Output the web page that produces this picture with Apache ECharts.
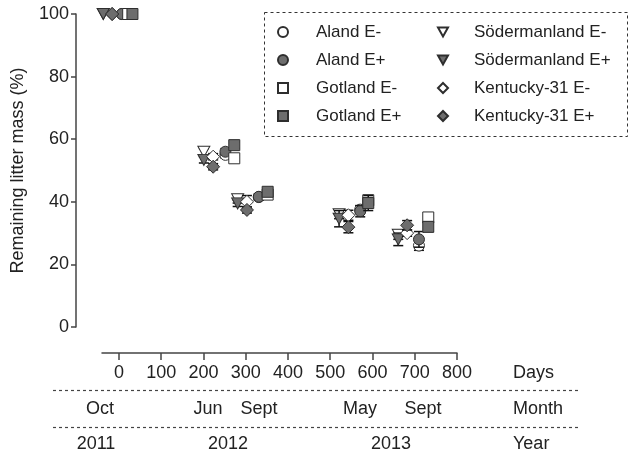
<!DOCTYPE html>
<html><head><meta charset="utf-8">
<script src="https://cdn.jsdelivr.net/npm/echarts@6/dist/echarts.min.js"></script>
<style>html,body{margin:0;padding:0;background:#fff}#c{width:631px;height:458px}</style>
</head><body><div id="c"></div>
<script>
// ---- data ----
const seriesNames = ['Aland E-','Aland E+','Gotland E-','Gotland E+','Södermanland E-','Södermanland E+','Kentucky-31 E-','Kentucky-31 E+'];
const daysAland = [7, 252, 331, 571, 710];
const daysGotlandMinus = [22, 273, 352, 590, 732];
const daysGotlandPlus = [32, 273, 352, 590, 732];
const daysSoder = [-37, 201, 281, 521, 661];
const daysKentucky = [-16, 223, 303, 543, 682];

const alandMinus = [100, 55.0, 41.5, 37.5, 26.0];
const alandPlus = [100, 56.0, 41.6, 37.0, 28.0];
const gotlandMinus = [100, 53.9, 42.3, 40.5, 35.0];
const gotlandPlus = [100, 58.1, 43.2, 39.6, 32.0];
const soderMinus = [100, 56.0, 40.8, 36.0, 29.5];
const soderPlus = [100, 53.4, 39.5, 34.6, 28.0];
const kentuckyMinus = [100, 54.4, 40.0, 35.7, 30.0];
const kentuckyPlus = [100, 51.2, 37.4, 31.9, 32.5];

const errAlandMinus = [0, 1.0, 1.0, 1.2, 1.5];
const errAlandPlus = [0, 1.0, 1.0, 1.8, 2.5];
const errGotlandMinus = [0, 1.0, 1.0, 1.5, 1.2];
const errGotlandPlus = [0, 1.0, 1.0, 2.4, 1.5];
const errSoderMinus = [0, 1.0, 1.2, 1.4, 1.5];
const errSoderPlus = [0, 1.0, 1.0, 2.6, 2.0];
const errKentuckyMinus = [0, 1.0, 2.0, 1.6, 1.0];
const errKentuckyPlus = [0, 1.0, 1.0, 1.8, 1.5];

const dayTicks = [0, 100, 200, 300, 400, 500, 600, 700, 800];
const monthLabels = ['Oct', 'Jun', 'Sept', 'May', 'Sept'];
const yearLabels = ['2011', '2012', '2013'];
const rowTitles = ['Days', 'Month', 'Year'];

// ---- build ----
const FONT = '"Liberation Sans", Arial, sans-serif';
const GRAY = '#6d6d6d', DARK = '#2e2e2e', TXT = '#222';
const DOWN_TRI = 'path://M0,0L20,0L10,18Z';
const specs = [
  {days: daysAland, vals: alandMinus, err: errAlandMinus, symbol: 'circle', size: 11, fill: '#fff'},
  {days: daysAland, vals: alandPlus, err: errAlandPlus, symbol: 'circle', size: 11, fill: GRAY},
  {days: daysGotlandMinus, vals: gotlandMinus, err: errGotlandMinus, symbol: 'rect', size: 11, fill: '#fff'},
  {days: daysGotlandPlus, vals: gotlandPlus, err: errGotlandPlus, symbol: 'rect', size: 11, fill: GRAY},
  {days: daysSoder, vals: soderMinus, err: errSoderMinus, symbol: DOWN_TRI, size: [12, 11], fill: '#fff'},
  {days: daysSoder, vals: soderPlus, err: errSoderPlus, symbol: DOWN_TRI, size: [12, 11], fill: GRAY},
  {days: daysKentucky, vals: kentuckyMinus, err: errKentuckyMinus, symbol: 'diamond', size: 13, fill: '#fff'},
  {days: daysKentucky, vals: kentuckyPlus, err: errKentuckyPlus, symbol: 'diamond', size: 13, fill: GRAY}
];

const series = [];
specs.forEach((s, i) => {
  series.push({
    type: 'custom', silent: true, z: 2 + i * 2,
    renderItem: function (params, api) {
      const x = api.value(0), lo = api.value(1), hi = api.value(2);
      if (hi - lo <= 0) return null;
      const a = api.coord([x, hi]), b = api.coord([x, lo]);
      const st = {stroke: '#111', lineWidth: 1.5};
      return {type: 'group', children: [
        {type: 'line', shape: {x1: a[0], y1: a[1], x2: b[0], y2: b[1]}, style: st},
        {type: 'line', shape: {x1: a[0] - 5, y1: a[1], x2: a[0] + 5, y2: a[1]}, style: st},
        {type: 'line', shape: {x1: b[0] - 5, y1: b[1], x2: b[0] + 5, y2: b[1]}, style: st}
      ]};
    },
    data: s.days.map((d, k) => [d, s.vals[k] - s.err[k], s.vals[k] + s.err[k]])
  });
  series.push({
    name: seriesNames[i], type: 'scatter', z: 3 + i * 2,
    symbol: s.symbol, symbolSize: s.size,
    itemStyle: {color: s.fill, borderColor: DARK, borderWidth: 1, opacity: 1},
    emphasis: {disabled: true},
    data: s.days.map((d, k) => [d, s.vals[k]])
  });
});

const legendCommon = {orient: 'vertical', top: 22, padding: 0, itemWidth: 10, itemHeight: 10, itemGap: 8,
  selectedMode: false,
  textStyle: {fontSize: 17, lineHeight: 20, color: TXT, fontFamily: FONT}};

const chart = echarts.init(document.getElementById('c'), null, {renderer: 'canvas'});
const graphic = [
  {type: 'rect', shape: {x: 264.5, y: 12.5, width: 363, height: 124}, style: {fill: 'none', stroke: '#333', lineWidth: 1, lineDash: [3, 3]}, z: 1},
  {type: 'line', shape: {x1: 53, y1: 390.5, x2: 580, y2: 390.5}, style: {stroke: '#444', lineWidth: 1.2, lineDash: [3, 3]}},
  {type: 'line', shape: {x1: 53, y1: 427.5, x2: 580, y2: 427.5}, style: {stroke: '#444', lineWidth: 1.2, lineDash: [3, 3]}}
];
const textStyle = (t, x, y, align) => ({type: 'text', x: x, y: y, style: {text: t, font: '18px ' + FONT, fill: TXT, textAlign: align || 'center', textVerticalAlign: 'middle'}});
const monthX = [100, 208, 259, 360, 423];
monthLabels.forEach((m, i) => graphic.push(textStyle(m, monthX[i], 409)));
const yearX = [96, 228, 391];
yearLabels.forEach((y, i) => graphic.push(textStyle(y, yearX[i], 444)));
const rowY = [373, 409, 444];
rowTitles.forEach((r, i) => graphic.push(textStyle(r, 513, rowY[i], 'left')));

chart.setOption({
  animation: false,
  backgroundColor: '#fff',
  textStyle: {fontFamily: FONT},
  grid: {left: 102, right: 174, top: 14, bottom: 131, containLabel: false},
  xAxis: {
    type: 'value', min: -40, max: 800, position: 'bottom', offset: 26,
    splitLine: {show: false},
    axisLine: {show: true, onZero: false, lineStyle: {color: '#444', width: 1.5}},
    axisTick: {show: true, length: 7, lineStyle: {color: '#444', width: 1.5}, customValues: dayTicks},
    axisLabel: {fontSize: 18, color: TXT, margin: 11, customValues: dayTicks, fontFamily: FONT}
  },
  yAxis: {
    type: 'value', min: 0, max: 100, interval: 20, position: 'left', offset: 26,
    name: 'Remaining litter mass (%)', nameLocation: 'middle', nameGap: 49,
    nameTextStyle: {fontSize: 18, color: TXT, fontFamily: FONT},
    splitLine: {show: false},
    axisLine: {show: true, onZero: false, lineStyle: {color: '#444', width: 1.5}},
    axisTick: {show: true, length: 5, lineStyle: {color: '#444', width: 1.5}},
    axisLabel: {fontSize: 18, color: TXT, margin: 7, fontFamily: FONT}
  },
  legend: [
    Object.assign({}, legendCommon, {left: 277, textStyle: Object.assign({}, legendCommon.textStyle, {padding: [0, 0, 0, 23]}), data: seriesNames.slice(0, 4)}),
    Object.assign({}, legendCommon, {left: 437, textStyle: Object.assign({}, legendCommon.textStyle, {padding: [0, 0, 0, 21]}), data: seriesNames.slice(4)})
  ],
  graphic: graphic,
  series: series
});
</script></body></html>
